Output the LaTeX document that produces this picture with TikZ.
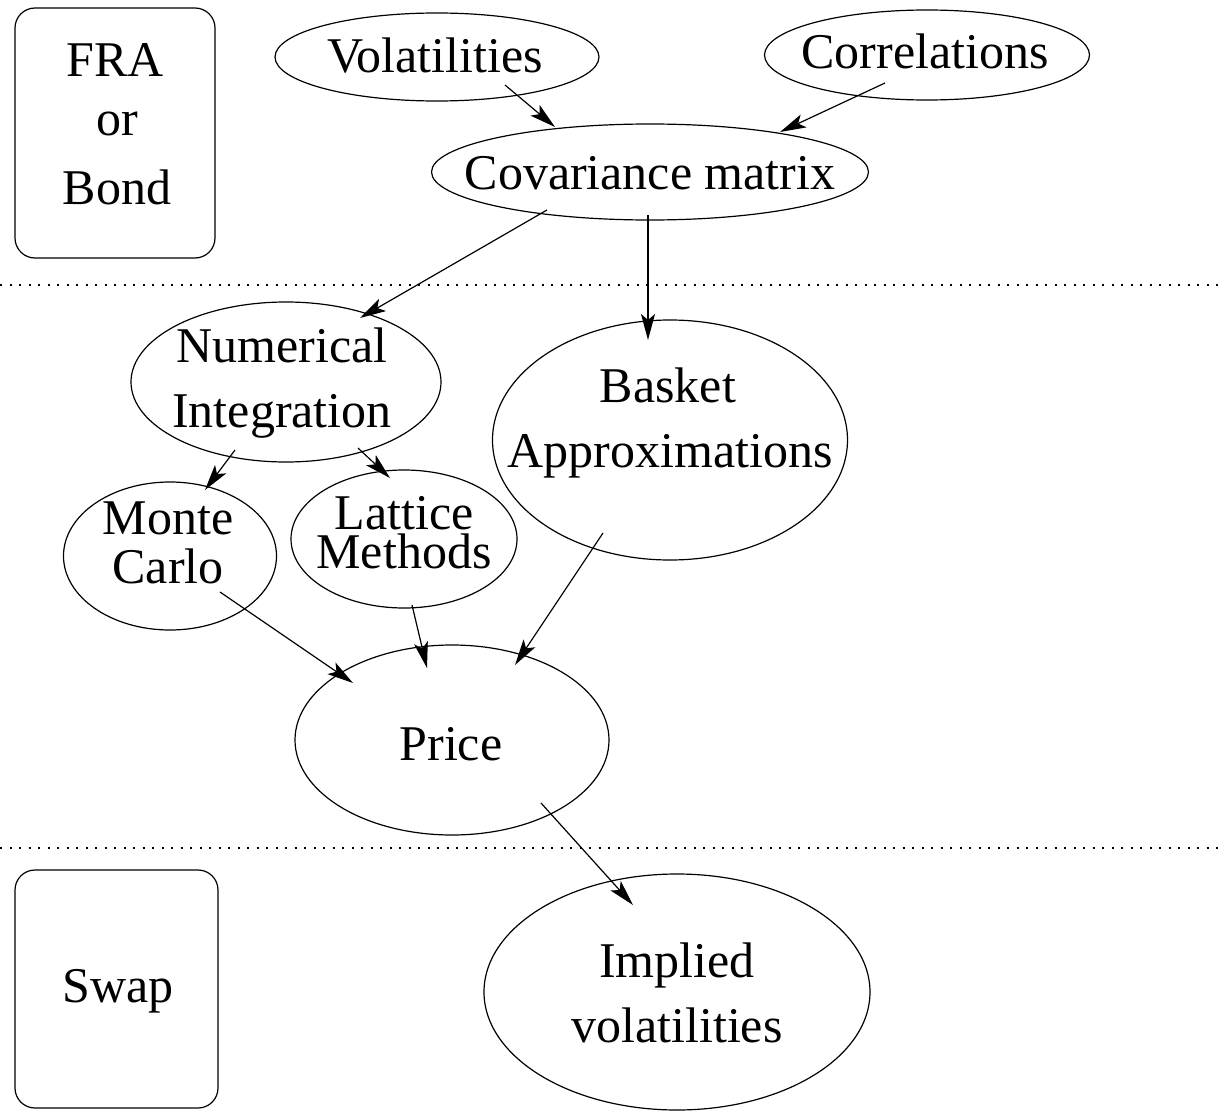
\documentclass[tikz,border=0pt]{standalone}
\usepackage{fontspec}
\setmainfont{Liberation Serif}
\usetikzlibrary{arrows.meta,calc,shapes.geometric}
\begin{document}
\begin{tikzpicture}[x=1pt,y=-1pt,
  ell/.style={draw,ellipse,inner sep=0pt,line width=1.2pt},
  lbl/.style={anchor=base,inner sep=0pt,font=\fontsize{50}{60}\selectfont},
  box/.style={draw,rounded corners=20pt,line width=1.2pt,inner sep=0pt},
  arr/.style={-{Stealth[length=26pt,width=14pt,inset=6pt]},line width=1.2pt},
  sep/.style={line width=1.2pt,dash pattern=on 2pt off 7.5pt}]
\useasboundingbox (0,0) rectangle (1224,1116);
% separators
\draw[sep] (0,285) -- (1224,285);
\draw[sep] (0,848) -- (1224,848);
% boxes
\node[box,minimum width=200pt,minimum height=250pt] (fra) at (115,133) {};
\node[lbl] (fra1) at (115,77) {FRA};
\node[lbl] (fra2) at (117,135) {or};
\node[lbl] (fra3) at (117,204) {Bond};
\node[box,minimum width=203pt,minimum height=238pt] (swap) at (116.5,989) {};
\node[lbl] (swapt) at (118,1002) {Swap};
% ellipses
\node[ell,minimum width=324pt,minimum height=88pt] (vol) at (437,57) {};
\node[lbl] (volt) at (435,73) {Volatilities};
\node[ell,minimum width=325pt,minimum height=90pt] (cor) at (927,55) {};
\node[lbl] (cort) at (925,69) {Correlations};
\node[ell,minimum width=437pt,minimum height=96pt] (cov) at (650,172) {};
\node[lbl] (covt) at (650,189) {Covariance matrix};
\node[ell,minimum width=310pt,minimum height=160pt] (num) at (286,382) {};
\node[lbl] (num1) at (282,362) {Numerical};
\node[lbl] (num2) at (282,427) {Integration};
\node[ell,minimum width=355pt,minimum height=240pt] (bas) at (670,440) {};
\node[lbl] (bas1) at (668,402) {Basket};
\node[lbl] (bas2) at (670,467) {Approximations};
\node[ell,minimum width=213pt,minimum height=148pt] (mc) at (170,556) {};
\node[lbl] (mc1) at (168,534) {Monte};
\node[lbl] (mc2) at (168,583) {Carlo};
\node[ell,minimum width=226pt,minimum height=138pt] (lat) at (404,539) {};
\node[lbl] (lat1) at (404,529) {Lattice};
\node[lbl] (lat2) at (404,568) {Methods};
\node[ell,minimum width=314pt,minimum height=190pt] (pr) at (452,740) {};
\node[lbl] (prt) at (451,760) {Price};
\node[ell,minimum width=386pt,minimum height=236pt] (imp) at (677,992) {};
\node[lbl] (imp1) at (677,977) {Implied};
\node[lbl] (imp2) at (677,1042) {volatilities};
% arrows
\draw[arr] ($(vol)+(68,28)$) -- ($(cov)+(-95,-45)$);
\draw[arr] ($(cor)+(-42,28)$) -- ($(cov)+(130,-40)$);
\draw[arr] ($(cov)+(-103,38)$) -- ($(num)+(74,-64)$);
\draw[arr] ($(cov)+(-2,43)$) -- ($(bas)+(-22,-100)$);
\draw[arr] ($(num)+(-51,68)$) -- ($(mc)+(35,-66)$);
\draw[arr] ($(num)+(72,66)$) -- ($(lat)+(-14,-61)$);
\draw[arr] ($(mc)+(50,36)$) -- ($(pr)+(-99,-57)$);
\draw[arr] ($(lat)+(8,66)$) -- ($(pr)+(-25,-72)$);
\draw[arr] ($(bas)+(-67,93)$) -- ($(pr)+(63,-75)$);
\draw[arr] ($(pr)+(89,63)$) -- ($(imp)+(-44,-87)$);
\end{tikzpicture}
\end{document}
